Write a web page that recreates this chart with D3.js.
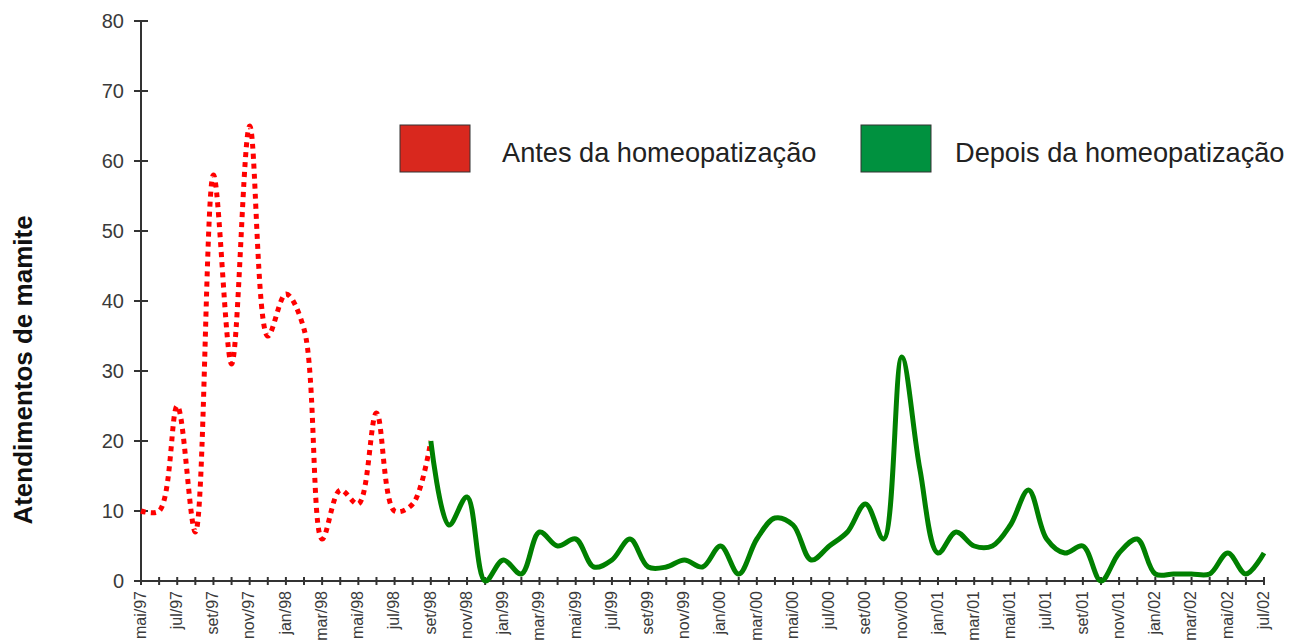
<!DOCTYPE html>
<html>
<head>
<meta charset="utf-8">
<script src="https://cdn.jsdelivr.net/npm/d3@7"></script>
<style>
  html, body { margin: 0; padding: 0; background: #fff; }
  svg { display: block; font-family: "Liberation Sans", Arial, sans-serif; }
</style>
</head>
<body>
<svg id="chart" width="1289" height="642"></svg>
<script>
// ---- data ----
const months = [
  "mai/97","jun/97","jul/97","ago/97","set/97","out/97","nov/97","dez/97",
  "jan/98","fev/98","mar/98","abr/98","mai/98","jun/98","jul/98","ago/98","set/98","out/98","nov/98","dez/98",
  "jan/99","fev/99","mar/99","abr/99","mai/99","jun/99","jul/99","ago/99","set/99","out/99","nov/99","dez/99",
  "jan/00","fev/00","mar/00","abr/00","mai/00","jun/00","jul/00","ago/00","set/00","out/00","nov/00","dez/00",
  "jan/01","fev/01","mar/01","abr/01","mai/01","jun/01","jul/01","ago/01","set/01","out/01","nov/01","dez/01",
  "jan/02","fev/02","mar/02","abr/02","mai/02","jun/02","jul/02"
];
// Antes: mai/97 .. set/98
const antesStart = 0;
const antes = [10,10,25,7,58,31,65,35,41,36,6,13,11,24,10,11,20];
// Depois: set/98 .. jul/02
const depoisStart = 16;
const depois = [20,8,12,0,3,1,7,5,6,2,3,6,2,2,3,2,5,1,6,9,8,3,5,7,11,6,32,16,4,7,5,5,8,13,6,4,5,0,4,6,1,1,1,1,4,1,4];
const yTicks = [0,10,20,30,40,50,60,70,80];
const seriesNames = ["Antes da homeopatização", "Depois da homeopatização"];
const yTitle = "Atendimentos de mamite";

// ---- layout ----
const svg = d3.select("#chart");
const x0 = 141, x1 = 1264, yTop = 21, yBot = 581;
const x = d3.scaleLinear().domain([0, months.length - 1]).range([x0, x1]);
const y = d3.scaleLinear().domain([0, 80]).range([yBot, yTop]);
const axisColor = "#333";

// y axis
const yAxis = svg.append("g");
yAxis.append("line").attr("x1", x0).attr("x2", x0).attr("y1", yTop).attr("y2", yBot)
  .attr("stroke", axisColor).attr("stroke-width", 2);
yAxis.selectAll("line.tick").data(yTicks).join("line").attr("class", "tick")
  .attr("x1", x0 - 7).attr("x2", x0 + 7)
  .attr("y1", d => y(d)).attr("y2", d => y(d))
  .attr("stroke", axisColor).attr("stroke-width", 2);
yAxis.selectAll("text").data(yTicks).join("text")
  .attr("x", 124).attr("y", d => y(d)).attr("dy", "0.36em")
  .attr("text-anchor", "end").attr("font-size", 20).attr("fill", "#3a3a3a")
  .text(d => d);

// x axis
const xAxis = svg.append("g");
xAxis.append("line").attr("x1", x0).attr("x2", x1).attr("y1", yBot).attr("y2", yBot)
  .attr("stroke", axisColor).attr("stroke-width", 2);
xAxis.selectAll("line.tick").data(months).join("line").attr("class", "tick")
  .attr("x1", (d, i) => x(i)).attr("x2", (d, i) => x(i))
  .attr("y1", yBot - 4).attr("y2", yBot + 4)
  .attr("stroke", axisColor).attr("stroke-width", 2);
xAxis.selectAll("text").data(months.map((m, i) => ({m, i})).filter(d => d.i % 2 === 0)).join("text")
  .attr("transform", d => `translate(${x(d.i)},${yBot + 10}) rotate(-90)`)
  .attr("dy", "0.3em")
  .attr("text-anchor", "end").attr("font-size", 16).attr("fill", "#3a3a3a")
  .text(d => d.m);

// y title
svg.append("text")
  .attr("transform", `translate(32,370) rotate(-90)`)
  .attr("text-anchor", "middle").attr("font-size", 26).attr("font-weight", "bold")
  .attr("fill", "#111").text(yTitle);

// lines
const line = d3.line().x(d => x(d.i)).y(d => y(d.v)).curve(d3.curveCatmullRom.alpha(0.5));
const antesPts = antes.map((v, k) => ({i: antesStart + k, v}));
const depoisPts = depois.map((v, k) => ({i: depoisStart + k, v}));

svg.append("path").datum(antesPts).attr("d", line)
  .attr("fill", "none").attr("stroke", "#ff0000").attr("stroke-width", 5)
  .attr("stroke-dasharray", "5,5");
svg.append("path").datum(depoisPts).attr("d", line)
  .attr("fill", "none").attr("stroke", "#008000").attr("stroke-width", 5)
  .attr("stroke-linejoin", "round");

// legend
const legend = [
  {name: seriesNames[0], color: "#d9281e", bx: 400, tx: 502},
  {name: seriesNames[1], color: "#00913f", bx: 861, tx: 955}
];
const lg = svg.append("g");
lg.selectAll("rect").data(legend).join("rect")
  .attr("x", d => d.bx).attr("y", 125).attr("width", 70).attr("height", 47)
  .attr("fill", d => d.color).attr("stroke", "#333").attr("stroke-width", 1);
lg.selectAll("text").data(legend).join("text")
  .attr("x", d => d.tx).attr("y", 162)
  .attr("font-size", 27.2).attr("fill", "#222")
  .text(d => d.name);
</script>
</body>
</html>
